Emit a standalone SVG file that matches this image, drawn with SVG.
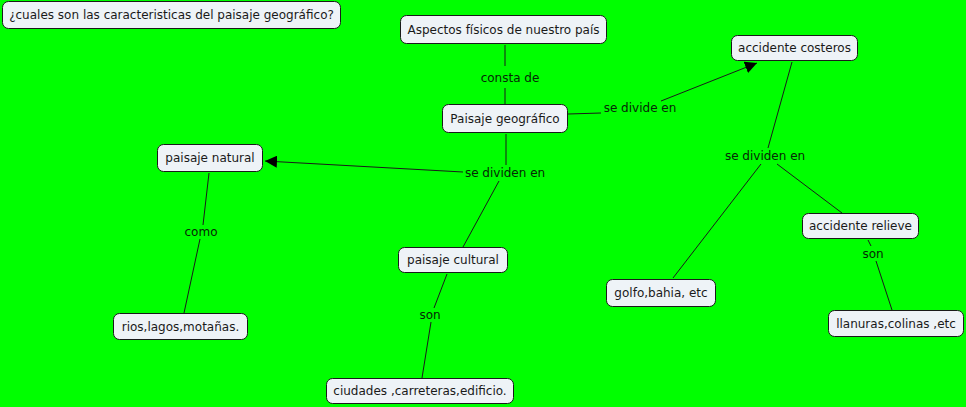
<svg xmlns="http://www.w3.org/2000/svg" width="966" height="407" viewBox="0 0 966 407">
<style>
.bg{fill:#00ff00}
.node rect{fill:#eef3f7;stroke:#1a1a1a;stroke-width:1}
.node text{font-family:"DejaVu Sans",Verdana,sans-serif;font-size:12px;fill:#1a1a1a;text-anchor:middle;dominant-baseline:central}
.lbl{font-family:"DejaVu Sans",Verdana,sans-serif;font-size:12px;fill:#062806;text-anchor:middle;dominant-baseline:central}
.conn line{stroke:#1a1a1a;stroke-width:1}
</style>
<defs>
<marker id="arr" viewBox="0 0 10 10" refX="10" refY="5" markerWidth="12" markerHeight="12" markerUnits="userSpaceOnUse" orient="auto">
<path d="M0,0 L10,5 L0,10 Z" fill="#000"/>
</marker>
</defs>
<rect class="bg" x="0" y="0" width="966" height="407"/>
<g id="connectors" class="conn">
<line x1="505" y1="45" x2="505" y2="66"/>
<line x1="505" y1="88" x2="505" y2="104"/>
<line x1="568" y1="114" x2="601" y2="113"/>
<line x1="661" y1="101" x2="757" y2="63" marker-end="url(#arr)"/>
<line x1="506" y1="134" x2="506" y2="165"/>
<line x1="463" y1="172" x2="265" y2="161" marker-end="url(#arr)"/>
<line x1="499" y1="181" x2="463" y2="247"/>
<line x1="792" y1="62" x2="768" y2="148"/>
<line x1="761" y1="164" x2="673" y2="278"/>
<line x1="777" y1="164" x2="842" y2="213"/>
<line x1="868" y1="240" x2="871" y2="246"/>
<line x1="876" y1="261" x2="892" y2="310"/>
<line x1="209" y1="173" x2="203" y2="225"/>
<line x1="200" y1="239" x2="184" y2="313"/>
<line x1="447" y1="274" x2="434" y2="308"/>
<line x1="431" y1="322" x2="422" y2="378"/>
<text class="lbl" x="510" y="78">consta de</text>
<text class="lbl" x="640" y="108">se divide en</text>
<text class="lbl" x="505" y="173">se dividen en</text>
<text class="lbl" x="765" y="156">se dividen en</text>
<text class="lbl" x="201" y="232">como</text>
<text class="lbl" x="430" y="315">son</text>
<text class="lbl" x="873" y="254">son</text>
</g>
<g id="n-title" class="node"><rect x="2.5" y="1.5" width="338" height="27" rx="6"/><text x="171.5" y="15">¿cuales son las caracteristicas del paisaje geográfico?</text></g>
<g id="n-aspectos" class="node"><rect x="400.5" y="15.5" width="206" height="28" rx="6"/><text x="503.5" y="29.5">Aspectos físicos de nuestro país</text></g>
<g id="n-paisaje" class="node"><rect x="442.5" y="104.5" width="125" height="28" rx="6"/><text x="505" y="118.5">Paisaje geográfico</text></g>
<g id="n-costeros" class="node"><rect x="731.5" y="35.5" width="126" height="25" rx="6"/><text x="794.5" y="48">accidente costeros</text></g>
<g id="n-relieve" class="node"><rect x="802.5" y="213.5" width="116" height="25" rx="6"/><text x="860.5" y="226">accidente relieve</text></g>
<g id="n-natural" class="node"><rect x="157.5" y="144.5" width="105" height="27" rx="6"/><text x="210" y="158">paisaje natural</text></g>
<g id="n-cultural" class="node"><rect x="398.5" y="247.5" width="109" height="25" rx="6"/><text x="453" y="260">paisaje cultural</text></g>
<g id="n-rios" class="node"><rect x="113.5" y="313.5" width="134" height="26" rx="6"/><text x="180.5" y="326.5">rios,lagos,motañas.</text></g>
<g id="n-ciudades" class="node"><rect x="326.5" y="378.5" width="187" height="25" rx="6"/><text x="420" y="391">ciudades ,carreteras,edificio.</text></g>
<g id="n-golfo" class="node"><rect x="606.5" y="279.5" width="109" height="27" rx="6"/><text x="661" y="293">golfo,bahia, etc</text></g>
<g id="n-llanuras" class="node"><rect x="828.5" y="310.5" width="135" height="26" rx="6"/><text x="896" y="323.5">llanuras,colinas ,etc</text></g>
</svg>
